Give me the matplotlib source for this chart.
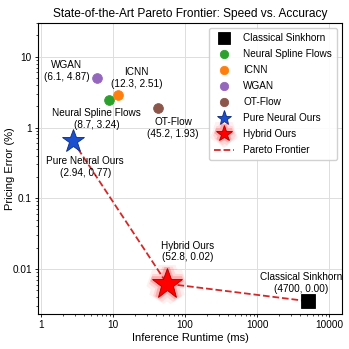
import matplotlib
matplotlib.use('Agg')
from matplotlib import pyplot as plt
import matplotlib.patheffects as pe

plt.rcParams['font.family'] = ['Liberation Sans', 'DejaVu Sans']

#---------------------- DATA
methods = ['Classical Sinkhorn', 'Neural Spline Flows', 'ICNN', 'WGAN', 'OT-Flow',
           'Pure Neural Ours', 'Hybrid Ours']
runtime = [5100, 8.8, 11.8, 6.0, 42, 2.75, 56]        # ms (plotted position)
error = [0.0035, 2.48, 2.9, 5.0, 1.87, 0.65, 0.0062]  # % (plotted position)
labels = ['(4700, 0.00)', '(8.7, 3.24)', '(12.3, 2.51)', '(6.1, 4.87)',
          '(45.2, 1.93)', '(2.94, 0.77)', '(52.8, 0.02)']
colors = ['black', '#2ca02c', '#ff7f0e', '#9467bd', '#8c564b', '#1a50d0', 'red']
markers = ['s', 'o', 'o', 'o', 'o', '*', '*']
sizes = [10, 7, 7, 7, 7, 17, 23]
legend_sizes = [8, 6, 6, 6, 6, 11, 12]
label_offsets = [(-5, 13), (-9, -14), (13, 12), (-22, 5), (11, -14), (9, -19), (15, 23)]
pareto = ['Pure Neural Ours', 'Hybrid Ours', 'Classical Sinkhorn']

#---------------------- PLOT
fig = plt.figure(figsize=(3.49, 3.49), dpi=100)
ax = fig.add_axes([0.109, 0.1, 0.871, 0.834])

idx = [methods.index(m) for m in pareto]
ax.plot([runtime[i] for i in idx], [error[i] for i in idx], '--', color='#d62728',
        lw=1.3, label='Pareto Frontier', zorder=2)

handles = []
for i, m in enumerate(methods):
    edge = colors[i]
    effects = None
    if m == 'Hybrid Ours':
        edge = '#aa0000'
        effects = [pe.Stroke(linewidth=13, foreground='red', alpha=0.06),
                   pe.Stroke(linewidth=8, foreground='red', alpha=0.1),
                   pe.Stroke(linewidth=4, foreground='red', alpha=0.2),
                   pe.Normal()]
    elif m == 'Pure Neural Ours':
        edge = '#0a2a80'
    h, = ax.plot(runtime[i], error[i], linestyle='none', marker=markers[i],
                 ms=sizes[i], color=colors[i], mec=edge, mew=0.6, label=m, zorder=4)
    if effects:
        h.set_path_effects(effects)
    handles.append(h)
    ax.annotate(m + '\n' + labels[i], (runtime[i], error[i]),
                xytext=label_offsets[i], textcoords='offset points',
                ha='center', va='center', fontsize=7.2, zorder=5)

ax.set_xscale('log')
ax.set_yscale('log')
ax.set_xlim(0.908, 15100)
ax.set_ylim(0.0023, 30)
ax.set_xticks([1, 10, 100, 1000, 10000])
ax.set_xticklabels(['1', '10', '100', '1000', '10000'])
ax.set_yticks([0.01, 0.1, 1, 10])
ax.set_yticklabels(['0.01', '0.1', '1', '10'])
ax.tick_params(labelsize=7.2, length=2.5, width=0.6, pad=2)
ax.tick_params(which='minor', length=1.6, width=0.5)
ax.grid(True, which='major', color='#dddddd', lw=0.7)
ax.set_axisbelow(True)

ax.set_xlabel('Inference Runtime (ms)', fontsize=8, labelpad=2)
ax.set_ylabel('Pricing Error (%)', fontsize=8)
ax.yaxis.set_label_coords(-0.075, 0.5)
ax.set_title('State-of-the-Art Pareto Frontier: Speed vs. Accuracy', fontsize=8.6, pad=4)

line_handle = ax.get_lines()[0]
leg = ax.legend(handles + [line_handle], methods + ['Pareto Frontier'], loc='upper right',
                fontsize=7.2, framealpha=0.9, edgecolor='#cccccc', borderpad=0.5,
                labelspacing=0.6, handletextpad=0.9)
for lh, s in zip(leg.legend_handles, legend_sizes):
    lh.set_markersize(s)

plt.savefig('out.png', dpi=100)
